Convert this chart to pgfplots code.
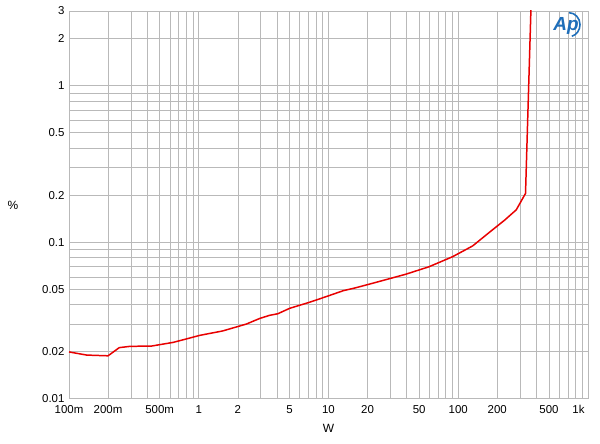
\documentclass[border=0pt]{standalone}
\usepackage{pgfplots}
\pgfplotsset{compat=1.18}
\usepackage{fontspec}
\setmainfont{Liberation Sans}
\definecolor{gridgray}{RGB}{185,185,185}
\definecolor{curvered}{RGB}{232,0,0}
\definecolor{apblue}{RGB}{30,110,185}

\begin{document}
\begin{tikzpicture}
\begin{axis}[
    at={(0,0)}, anchor=south west,
    scale only axis,
    width=519bp, height=387.7bp,
    xmode=log, ymode=log,
    xmin=0.1, xmax=1000,
    ymin=0.01, ymax=3,
    xtick={0.1,0.2,0.5,1,2,5,10,20,50,100,200,500},
    xticklabels={100m,200m,500m,1,2,5,10,20,50,100,200,500},
    extra x ticks={1000},
    extra x tick labels={1k},
    extra x tick style={xticklabel style={anchor=north east, xshift=0bp}},
    ytick={0.01,0.02,0.05,0.1,0.2,0.5,1,2,3},
    yticklabels={0.01,0.02,0.05,0.1,0.2,0.5,1,2,3},
    minor xtick={0.3,0.4,0.6,0.7,0.8,0.9,3,4,6,7,8,9,30,40,60,70,80,90,300,400,600,700,800,900},
    minor ytick={0.03,0.04,0.06,0.07,0.08,0.09,0.3,0.4,0.6,0.7,0.8,0.9},
    grid=both,
    major grid style={draw=gridgray, line width=0.6pt},
    minor grid style={draw=gridgray, line width=0.6pt},
    axis line style={draw=gridgray, line width=0.6pt},
    major tick length=0pt, minor tick length=0pt,
    tick label style={font=\fontsize{11.5}{13}\selectfont},
    xticklabel style={yshift=-3bp},
    yticklabel style={xshift=-1bp},
    /pgf/number format/assume math mode=true,
    clip=true,
]
\addplot[color=curvered, line width=1.5pt] coordinates {
    (0.1,0.0199) (0.137,0.0190) (0.2,0.0188) (0.244,0.0212) (0.295,0.0216)
    (0.433,0.0217) (0.635,0.0229) (0.804,0.0241) (1.02,0.0254) (1.53,0.0271)
    (2.33,0.0300) (2.96,0.0326) (3.52,0.0341) (4.07,0.0349) (5.02,0.0378)
    (7.13,0.0413) (9.6,0.0449) (13.0,0.0490) (16.0,0.0510) (21.8,0.0546)
    (39.4,0.0624) (59.6,0.0697) (90.5,0.0808) (129,0.0946) (174,0.1157)
    (227,0.138) (280,0.161) (330,0.205) (363,3) (370,5)
};
\end{axis}
\node[font=\fontsize{12}{14}\selectfont] at (259.5bp,-29.3bp) {W};
\node[font=\fontsize{12}{14}\selectfont] at (-56bp,193.7bp) {\%};
\node[text=apblue, font=\bfseries\itshape\fontsize{19}{19}\selectfont] at (497bp,373bp) {Ap};
\draw[apblue, line width=1.6pt] (500bp,386bp) arc[start angle=90, end angle=-75, x radius=11bp, y radius=12bp];
\pgfresetboundingbox
\path[use as bounding box] (-69bp,-45.3bp) rectangle (531bp,398.7bp);
\end{tikzpicture}
\end{document}
